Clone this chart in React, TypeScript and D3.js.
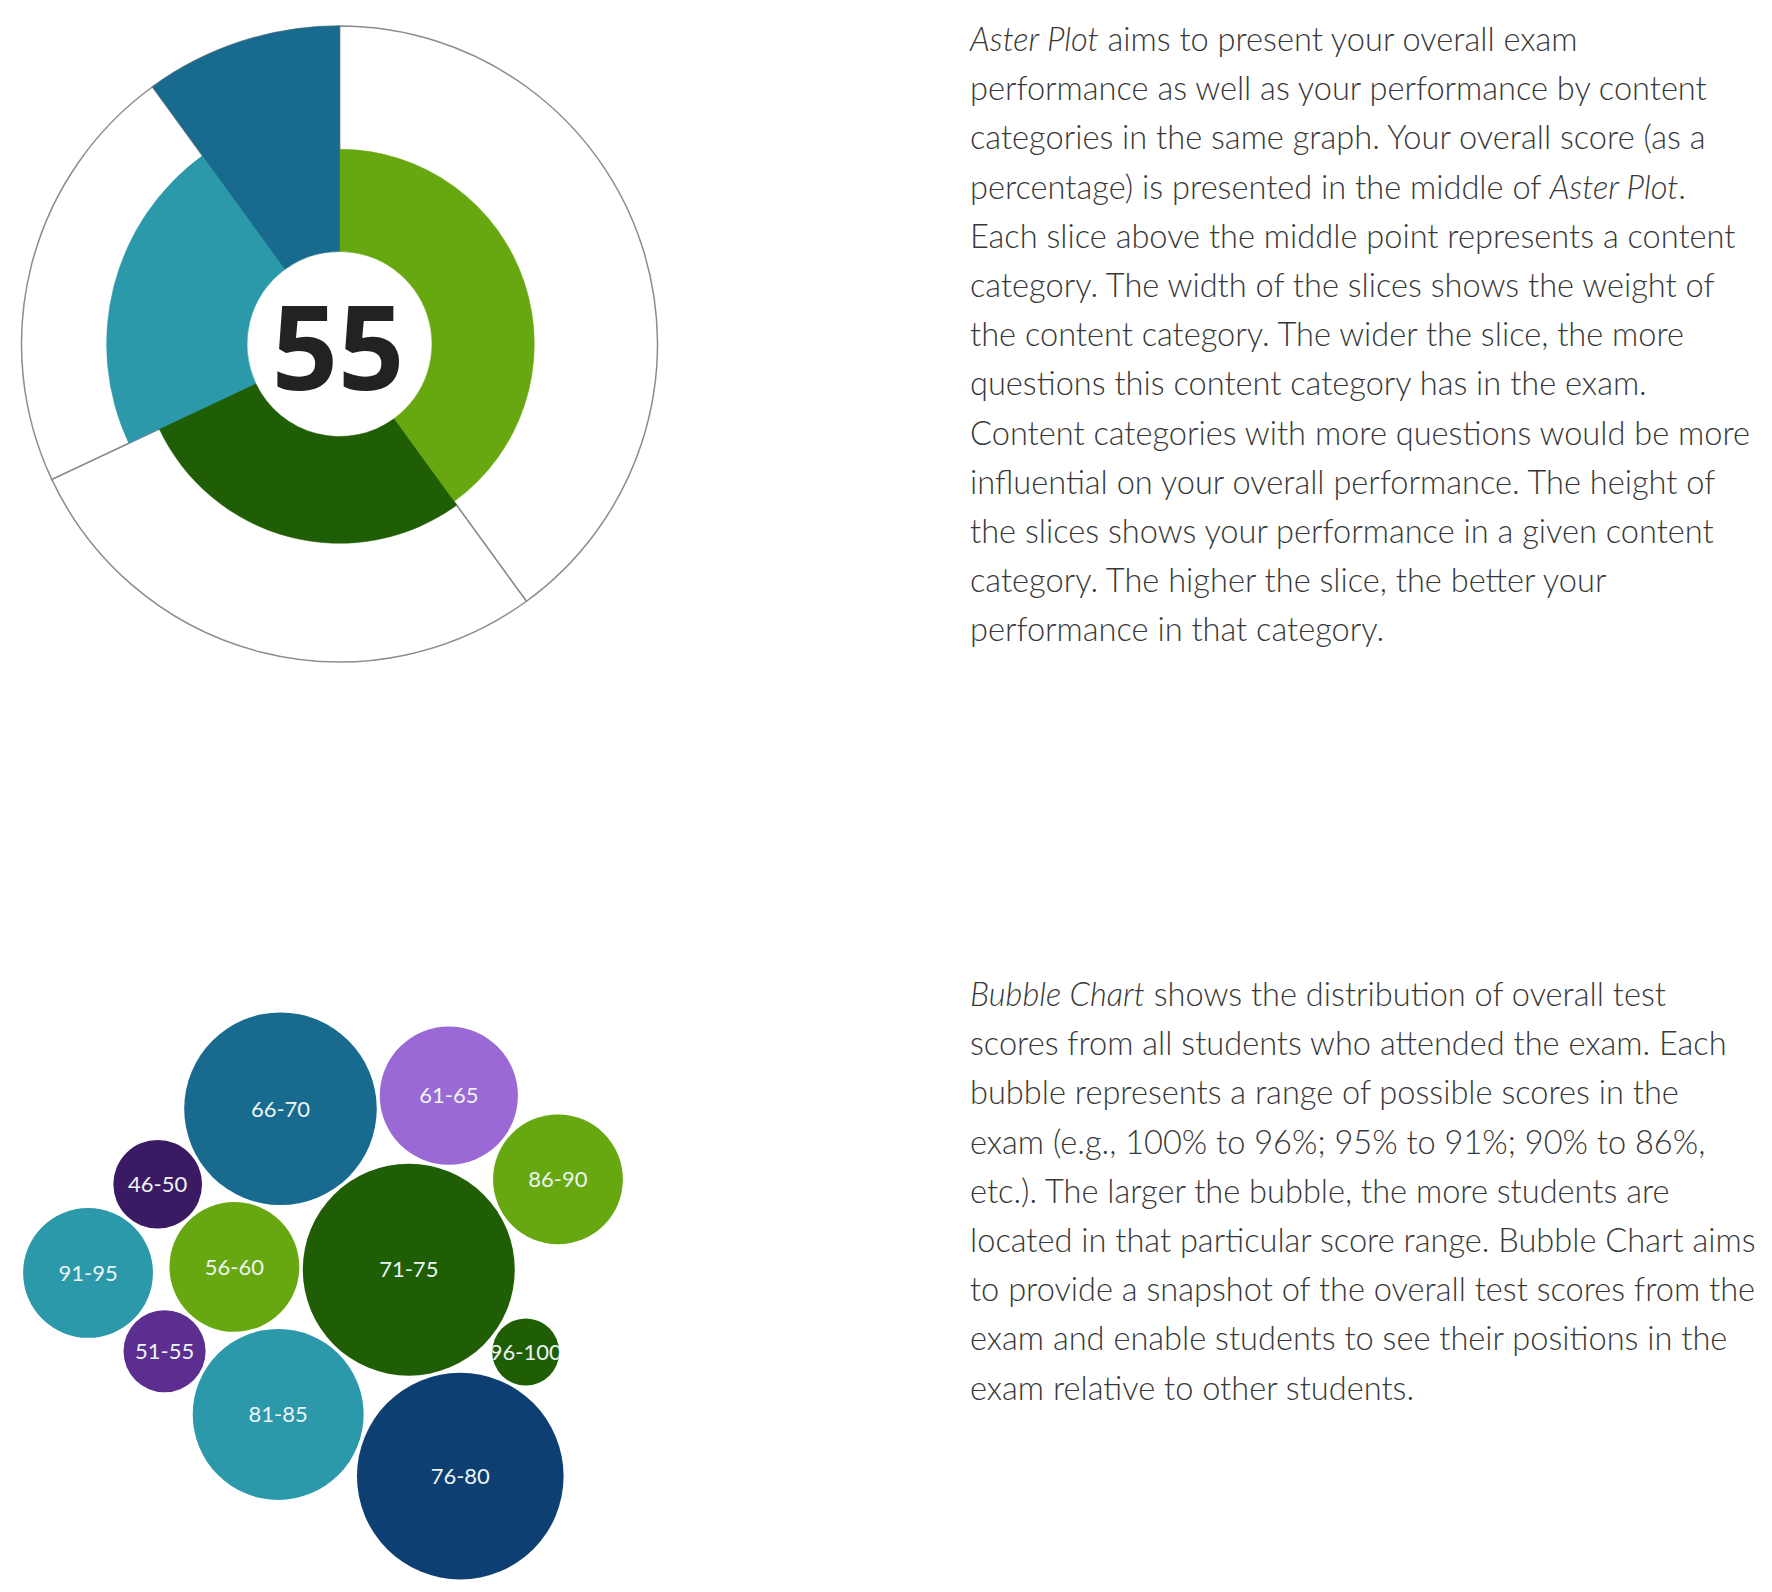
import React from "react";
import * as d3 from "d3";

// ---------- Aster plot data ----------
const asterCategories = ["Content category 1", "Content category 2", "Content category 3", "Content category 4"];
const asterWeights = [40, 28, 22, 10];
const asterScores = [45, 47, 62, 100];
const asterColors = ["#67a811", "#1f5e05", "#2b99a9", "#186a8f"];
const overallScore = 55;

// ---------- Bubble chart data (placement order) ----------
const scoreRanges = ["71-75", "76-80", "81-85", "56-60", "66-70", "61-65", "86-90", "96-100", "46-50", "51-55", "91-95"];
const studentCounts = [40, 38, 26, 15, 33, 17, 15, 4, 7, 6, 15];
const bubbleColors = ["#1f5e05", "#0e3f72", "#2b99a9", "#67a811", "#186a8f", "#9a69d6", "#67a811", "#1f5e05", "#3a1a62", "#5b2e90", "#2b99a9"];
// each bubble is laid tangent to the two named neighbours
const bubbleAnchors: [string, string][] = [
  ["", ""], ["71-75", ""], ["71-75", "76-80"], ["71-75", "81-85"], ["71-75", "56-60"],
  ["71-75", "66-70"], ["71-75", "61-65"], ["76-80", "71-75"], ["66-70", "56-60"],
  ["56-60", "81-85"], ["46-50", "51-55"],
];

// ---------- Text ----------
const asterText = [
  "*Aster Plot* aims to present your overall exam",
  "performance as well as your performance by content",
  "categories in the same graph. Your overall score (as a",
  "percentage) is presented in the middle of *Aster Plot*.",
  "Each slice above the middle point represents a content",
  "category. The width of the slices shows the weight of",
  "the content category. The wider the slice, the more",
  "questions this content category has in the exam.",
  "Content categories with more questions would be more",
  "influential on your overall performance. The height of",
  "the slices shows your performance in a given content",
  "category. The higher the slice, the better your",
  "performance in that category.",
];
const bubbleText = [
  "*Bubble Chart* shows the distribution of overall test",
  "scores from all students who attended the exam. Each",
  "bubble represents a range of possible scores in the",
  "exam (e.g., 100% to 96%; 95% to 91%; 90% to 86%,",
  "etc.). The larger the bubble, the more students are",
  "located in that particular score range. Bubble Chart aims",
  "to provide a snapshot of the overall test scores from the",
  "exam and enable students to see their positions in the",
  "exam relative to other students.",
];

const W = 1772;
const H = 1592;

function Paragraph({ lines, x, y0, lh }: { lines: string[]; x: number; y0: number; lh: number }) {
  return (
    <g>
      {lines.map((ln, i) => {
        const parts = ln.split("*");
        return (
          <text key={i} x={x} y={y0 + i * lh} fontFamily="Lato, 'Open Sans', sans-serif" fontWeight={300} fontSize={32.6} fill="#383838">
            {parts.map((p, j) => (
              <tspan key={j} fontStyle={j % 2 === 1 ? "italic" : "normal"}>{p}</tspan>
            ))}
          </text>
        );
      })}
    </g>
  );
}

function Aster() {
  const cx = 339.5, cy = 344, innerR = 94, outerR = 318;
  const r = d3.scaleLinear().domain([0, 100]).range([innerR, outerR]);
  const pie = d3.pie<number>().sort(null).value((d) => d)(asterWeights);
  const outline = d3.arc<d3.PieArcDatum<number>>().innerRadius(innerR).outerRadius(outerR);
  const fill = d3.arc<d3.PieArcDatum<number>>().innerRadius(innerR - 1.5).outerRadius((d) => r(asterScores[d.index]));
  return (
    <g transform={`translate(${cx},${cy})`}>
      {pie.map((d, i) => (
        <path key={"o" + i} d={outline(d) || ""} fill="#fff" stroke="#8c8c8c" strokeWidth={1.5} />
      ))}
      {pie.map((d, i) => (
        <path key={"f" + i} d={fill(d) || ""} fill={asterColors[i]} stroke={asterColors[i]} strokeWidth={0.5}>
          <title>{asterCategories[i]}</title>
        </path>
      ))}
      <text x={-1.5} y={46} textAnchor="middle" fontFamily="'Open Sans', sans-serif" fontWeight={700} fontSize={116} fill="#222">
        {overallScore}
      </text>
    </g>
  );
}

function Bubbles() {
  const rs = d3.scaleSqrt().domain([0, d3.max(studentCounts) as number]).range([0, 106]);
  const gap = 3.5;
  const firstAngle = (76 * Math.PI) / 180;
  const nodes = scoreRanges.map((l, i) => ({ label: l, color: bubbleColors[i], r: rs(studentCounts[i]), x: 0, y: 0 }));
  const byLabel = new Map(nodes.map((n) => [n.label, n]));
  nodes.forEach((n, i) => {
    const [pl, ql] = bubbleAnchors[i];
    if (!pl) return;
    const p = byLabel.get(pl)!;
    if (!ql) {
      const dd = p.r + n.r + gap;
      n.x = p.x + dd * Math.cos(firstAngle);
      n.y = p.y + dd * Math.sin(firstAngle);
      return;
    }
    const q = byLabel.get(ql)!;
    const dp = p.r + n.r + gap, dq = q.r + n.r + gap;
    const dx = q.x - p.x, dy = q.y - p.y, d = Math.hypot(dx, dy);
    const ux = dx / d, uy = dy / d;
    const a = (dp * dp - dq * dq + d * d) / (2 * d);
    const h = Math.sqrt(Math.max(0, dp * dp - a * a));
    n.x = p.x + a * ux - h * uy;
    n.y = p.y + a * uy + h * ux;
  });
  const x0 = d3.min(nodes, (n) => n.x - n.r)!, x1 = d3.max(nodes, (n) => n.x + n.r)!;
  const y0 = d3.min(nodes, (n) => n.y - n.r)!, y1 = d3.max(nodes, (n) => n.y + n.r)!;
  const tx = 323 - (x0 + x1) / 2, ty = 1296 - (y0 + y1) / 2;
  return (
    <g transform={`translate(${tx},${ty})`}>
      <defs>
        {nodes.map((n, i) => (
          <clipPath key={i} id={"bc" + i}>
            <circle cx={n.x} cy={n.y} r={n.r} />
          </clipPath>
        ))}
      </defs>
      {nodes.map((n, i) => (
        <g key={i}>
          <circle cx={n.x} cy={n.y} r={n.r} fill={n.color} />
          <text x={n.x} y={n.y} dy="0.35em" textAnchor="middle" clipPath={`url(#bc${i})`} fontFamily="Lato, 'Open Sans', sans-serif" fontSize={22} fill="#edf4f4">
            {n.label}
          </text>
        </g>
      ))}
    </g>
  );
}

export default function App() {
  return (
    <svg width={W} height={H} viewBox={`0 0 ${W} ${H}`} style={{ position: "absolute", left: 0, top: 0, background: "#fff" }}>
      <rect width={W} height={H} fill="#fff" />
      <Aster />
      <Paragraph lines={asterText} x={970} y0={51} lh={49.2} />
      <Bubbles />
      <Paragraph lines={bubbleText} x={970} y0={1006} lh={49.2} />
    </svg>
  );
}
